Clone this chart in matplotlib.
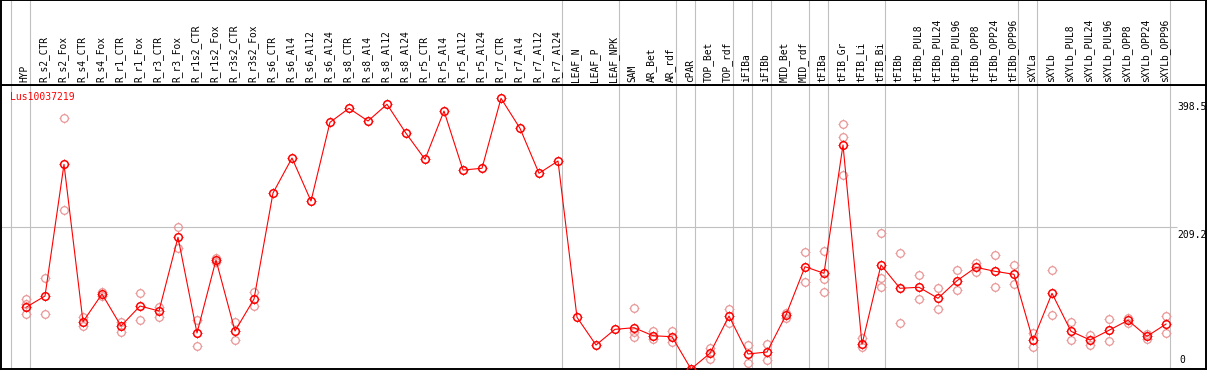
import numpy as np
import matplotlib
matplotlib.use('Agg')
import matplotlib.pyplot as plt
from matplotlib.path import Path

plt.rcParams['path.simplify'] = False

# sample names, left to right
samples = ['HYP', 'R_s2_CTR', 'R_s2_Fox', 'R_s4_CTR', 'R_s4_Fox', 'R_r1_CTR', 'R_r1_Fox',
           'R_r3_CTR', 'R_r3_Fox', 'R_r1s2_CTR', 'R_r1s2_Fox', 'R_r3s2_CTR', 'R_r3s2_Fox',
           'R_s6_CTR', 'R_s6_Al4', 'R_s6_Al12', 'R_s6_Al24', 'R_s8_CTR', 'R_s8_Al4',
           'R_s8_Al12', 'R_s8_Al24', 'R_r5_CTR', 'R_r5_Al4', 'R_r5_Al12', 'R_r5_Al24',
           'R_r7_CTR', 'R_r7_Al4', 'R_r7_Al12', 'R_r7_Al24', 'LEAF_N', 'LEAF_P', 'LEAF_NPK',
           'SAM', 'AR_Bet', 'AR_rdf', 'cPAR', 'TOP_Bet', 'TOP_rdf', 'iFIBa', 'iFIBb',
           'MID_Bet', 'MID_rdf', 'tFIBa', 'tFIB_Gr', 'tFIB_Li', 'tFIB_Bi', 'tFIBb',
           'tFIBb_PUL8', 'tFIBb_PUL24', 'tFIBb_PUL96', 'tFIBb_OPP8', 'tFIBb_OPP24',
           'tFIBb_OPP96', 'sXYLa', 'sXYLb', 'sXYLb_PUL8', 'sXYLb_PUL24', 'sXYLb_PUL96',
           'sXYLb_OPP8', 'sXYLb_OPP24', 'sXYLb_OPP96']

# mean expression per sample
mean_vals = [90.8, 107.5, 301.3, 69.6, 110.4, 63.3, 92.7, 85.4, 193.9, 53.0, 160.5, 55.9, 103.0,
             259.1, 310.6, 247.3, 363.2, 383.8, 365.1, 389.7, 347.0, 308.7, 379.8, 292.9, 295.5,
             398.5, 354.3, 288.1, 306.2, 76.1, 35.3, 58.4,
             60.8, 49.0, 47.5, 0.0, 23.1, 78.0, 22.1, 25.0, 79.5, 150.6, 140.9, 329.8, 36.4,
             153.1, 118.8, 120.3, 104.1, 130.0, 149.7, 143.8, 139.4, 42.2, 111.4, 55.5, 42.7,
             57.0, 71.7, 48.1, 66.2]

# individual replicates (empty where none shown)
rep_vals = [[103.0, 95.7, 81.0], [133.5, 80.5], [369.5, 233.6], [77.0, 63.7], [113.4, 107.5],
            [69.6, 54.9], [111.4, 71.7], [91.7, 77.0], [208.6, 177.7], [72.1, 33.4],
            [163.0, 158.0], [68.7, 42.2], [112.9, 92.3],
            [], [], [], [], [], [], [], [], [], [], [], [], [], [], [], [], [], [], [],
            [89.4, 54.9, 47.5], [55.9, 43.7], [55.9, 40.2], [], [31.4, 14.3], [87.9, 67.3],
            [35.3, 8.4], [36.8, 13.2], [82.9, 74.6], [171.8, 127.6], [173.7, 132.5, 113.8],
            [360.7, 341.1, 285.6], [45.2, 31.9], [199.8, 133.5, 121.2], [170.3, 67.3],
            [137.9, 102.6], [118.8, 87.9], [145.7, 115.9], [156.5, 143.2], [167.4, 120.3],
            [153.1, 124.7], [53.4, 31.9], [145.7, 79.1], [69.2, 42.2], [50.1, 35.3],
            [73.6, 41.2], [75.5, 67.3], [51.5, 44.2], [78.0, 52.6]]

# index of first sample in each tissue group
group_starts = [0, 1, 29, 32, 35, 36, 38, 39, 40, 42, 43, 46, 53, 54, 61]
y_top = 398.5
y_mid = 209.2
gene = 'Lus10037219'

x = np.arange(len(samples))
xlim = (-25 / 19, 1180 / 19)
grey = '#c0c0c0'
pink = '#e89595'
mono = 'DejaVu Sans Mono'

# four tiny ticks around the circle marker
verts, codes = [], []
for dx, dy in [(1, 0), (-1, 0), (0, 1), (0, -1)]:
    verts += [(dx * 1.0, dy * 1.0), (dx * 1.3, dy * 1.3)]
    codes += [Path.MOVETO, Path.LINETO]
ticks = Path(verts, codes)
ms_circ = 5.5
ms_tick = ms_circ * 1.3

fig = plt.figure(figsize=(12.09, 3.70), dpi=100)
ax = fig.add_axes([1 / 1209, 1 / 370, 1205 / 1209, 284 / 370])
lab = fig.add_axes([1 / 1209, 285 / 370, 1205 / 1209, 85 / 370])

for a in (ax, lab):
    a.set_xlim(*xlim)
    a.set_xticks([])
    a.set_yticks([])
    for s in a.spines.values():
        s.set_linewidth(1.4)
        s.set_color('black')
    for g in group_starts:
        a.axvline(g - 15 / 19, color=grey, lw=0.8, zorder=0)

lab.set_ylim(0, 1)
for i, name in enumerate(samples):
    lab.text(i - 0.07, 0.035, name, rotation=90, ha='center', va='bottom',
             fontsize=6.9, family=mono)

ax.set_ylim(0, 418.1)
ax.hlines(y_mid, xlim[0], 60.58, color=grey, lw=0.8, zorder=0)

# replicates
for i, r in enumerate(rep_vals):
    if r:
        ax.plot([i] * len(r), r, linestyle='none', marker='o', ms=ms_circ,
                mfc='none', mec=pink, mew=0.9, zorder=2)
        ax.plot([i] * len(r), r, linestyle='none', marker=ticks, ms=ms_tick,
                mec=pink, mew=0.7, zorder=2)

ax.plot(x, mean_vals, color='red', lw=0.8, marker='o', ms=ms_circ,
        mfc='none', mec='red', mew=1.1, zorder=3)
ax.plot(x, mean_vals, linestyle='none', marker=ticks, ms=ms_tick,
        mec='red', mew=0.7, zorder=3)

ax.text(9 / 1205, 0.958, gene, transform=ax.transAxes, color='red', fontsize=7,
        family=mono, va='center', ha='left')

lx = 1177 / 19 - 26 / 19
ax.annotate('398.5', (lx, y_top), xytext=(0, -3), textcoords='offset points',
            fontsize=7, family=mono, va='top', ha='left')
ax.annotate('209.2', (lx, y_mid), xytext=(0, -2), textcoords='offset points',
            fontsize=7, family=mono, va='top', ha='left')
ax.annotate('0', (lx + 0.1, 0), xytext=(0, 3), textcoords='offset points',
            fontsize=7, family=mono, va='bottom', ha='left')

fig.savefig('out.png', dpi=100)
